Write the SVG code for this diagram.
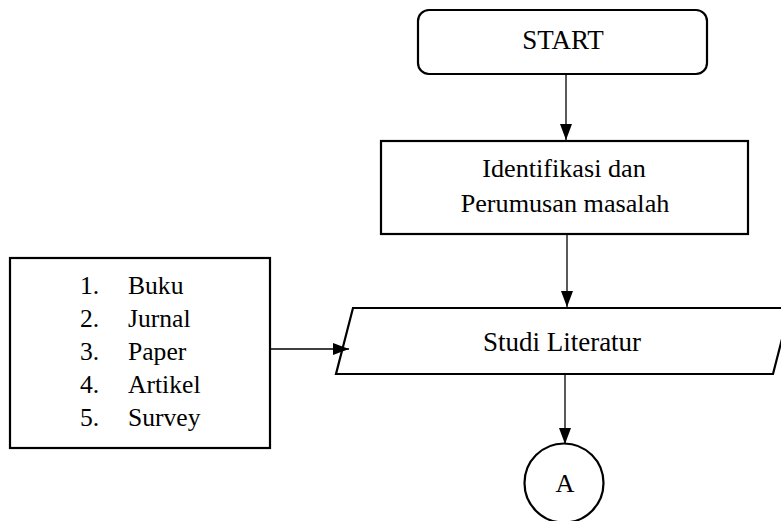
<svg xmlns="http://www.w3.org/2000/svg" width="781" height="521" viewBox="0 0 781 521">
<defs>
<style>
.shape{fill:#fff;stroke:#000;stroke-width:2.2}
.conn{fill:none;stroke:#000;stroke-width:1.3}
text{font-family:"Liberation Serif","Times New Roman",serif;font-size:25.6px;fill:#000}
.c{text-anchor:middle}
.big{font-size:27px}
.mid{font-size:26.2px}
</style>
<marker id="ah" viewBox="0 0 16 12" refX="16" refY="6" markerWidth="16" markerHeight="12" markerUnits="userSpaceOnUse" orient="auto">
<path d="M0,0 L16,6 L0,12 Z" fill="#000"/>
</marker>
</defs>
<rect width="781" height="521" fill="#fff"/>
<g id="start">
<rect class="shape" x="418" y="10" width="289" height="64" rx="11"/>
<text class="c big" x="563" y="49">START</text>
</g>
<g id="identifikasi">
<rect class="shape" x="381" y="141" width="367" height="93"/>
<text class="c mid" x="564" y="177">Identifikasi dan</text>
<text class="c mid" x="565" y="212">Perumusan masalah</text>
</g>
<g id="sumber">
<rect class="shape" x="10" y="258" width="260" height="190"/>
<text x="80" y="294">1.</text><text x="128" y="294">Buku</text>
<text x="80" y="327">2.</text><text x="128" y="327">Jurnal</text>
<text x="80" y="360">3.</text><text x="128" y="360">Paper</text>
<text x="80" y="393">4.</text><text x="128" y="393">Artikel</text>
<text x="80" y="426">5.</text><text x="128" y="426">Survey</text>
</g>
<g id="studi">
<polygon class="shape" points="353,308 790,308 773,374 336,374"/>
<text class="c big" x="562" y="351">Studi Literatur</text>
</g>
<g id="konektorA">
<circle class="shape" cx="564" cy="483" r="39.5"/>
<text class="c mid" x="565" y="492">A</text>
</g>
<g id="connectors">
<line class="conn" x1="566" y1="74" x2="566" y2="140" marker-end="url(#ah)"/>
<line class="conn" x1="567" y1="234" x2="567" y2="307" marker-end="url(#ah)"/>
<line class="conn" x1="270" y1="349" x2="349" y2="349" marker-end="url(#ah)"/>
<line class="conn" x1="565" y1="374" x2="565" y2="444" marker-end="url(#ah)"/>
</g>
</svg>
